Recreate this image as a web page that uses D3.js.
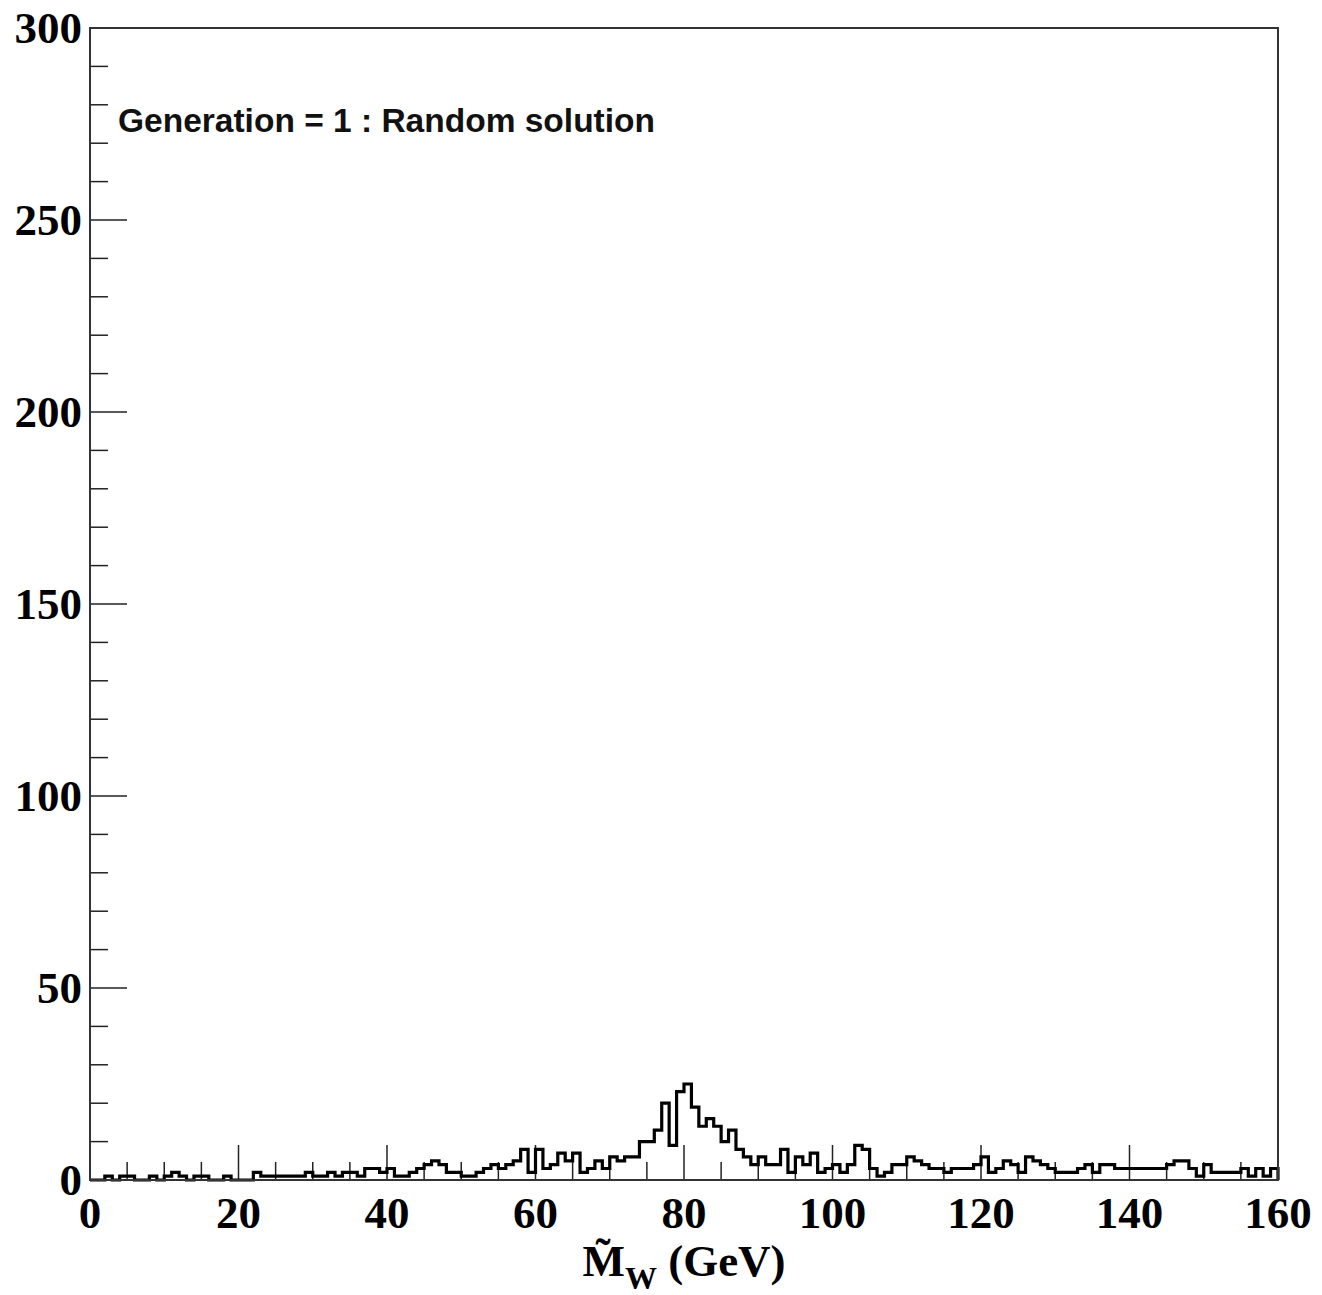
<!DOCTYPE html>
<html>
<head>
<meta charset="utf-8">
<script src="https://cdn.jsdelivr.net/npm/d3@7"></script>
<style>
  body { margin: 0; background: #fff; }
  .tick-label { font-family: "Liberation Serif", "Times New Roman", serif; font-weight: bold; font-size: 45px; fill: #000; }
</style>
</head>
<body>
<svg id="chart" width="1322" height="1295"></svg>
<script>
// histogram contents, 1 GeV bins from 0 to 160
const binLow = 0;
const binWidth = 1;
const counts = [
  0, 0, 1, 0, 1, 1, 0, 0, 1, 0,
  1, 2, 1, 0, 1, 1, 0, 0, 1, 0,
  0, 0, 2, 1, 1, 1, 1, 1, 1, 2,
  1, 1, 2, 1, 2, 2, 1, 3, 3, 2,
  3, 1, 1, 2, 3, 4, 5, 4, 2, 2,
  1, 1, 2, 3, 4, 3, 4, 5, 8, 2,
  8, 3, 4, 7, 5, 7, 2, 3, 5, 3,
  6, 5, 6, 6, 10, 10, 13, 20, 9, 23,
  25, 19, 14, 16, 14, 10, 13, 8, 6, 4,
  6, 4, 4, 8, 2, 6, 4, 7, 2, 3,
  4, 2, 4, 9, 8, 3, 1, 2, 4, 4,
  6, 5, 4, 3, 3, 2, 3, 3, 3, 4,
  6, 2, 3, 5, 4, 2, 6, 5, 4, 3,
  2, 2, 2, 3, 4, 2, 4, 4, 3, 3,
  3, 3, 3, 3, 3, 4, 5, 5, 3, 1,
  4, 2, 2, 2, 2, 3, 1, 3, 1, 3
];

const xTicks = [0, 20, 40, 60, 80, 100, 120, 140, 160];
const yTicks = [0, 50, 100, 150, 200, 250, 300];
const labelText = "Generation = 1 : Random solution";

const margin = { left: 90, right: 44, top: 28, bottom: 115 };
const width = 1322, height = 1295;
const plotW = width - margin.left - margin.right;
const plotH = height - margin.top - margin.bottom;

const svg = d3.select("#chart");
const g = svg.append("g").attr("transform", `translate(${margin.left},${margin.top})`);

const x = d3.scaleLinear().domain([0, 160]).range([0, plotW]);
const y = d3.scaleLinear().domain([0, 300]).range([plotH, 0]);

// step outline of the histogram
let pts = [[binLow, 0]];
counts.forEach((c, i) => {
  const lo = binLow + i * binWidth;
  pts.push([lo, c]);
  pts.push([lo + binWidth, c]);
});
pts.push([binLow + counts.length * binWidth, 0]);

const line = d3.line().x(d => x(d[0])).y(d => y(d[1]));

// minor / major ticks drawn inside the frame
const xMinor = d3.range(0, 161, 5).filter(v => v % 20 !== 0);
const yMinor = d3.range(0, 301, 10).filter(v => v % 50 !== 0);

g.selectAll(".xmaj").data(xTicks).enter().append("line")
  .attr("x1", d => x(d)).attr("x2", d => x(d))
  .attr("y1", plotH).attr("y2", plotH - 35)
  .attr("stroke", "#222").attr("stroke-width", 1.5);
g.selectAll(".xmin").data(xMinor).enter().append("line")
  .attr("x1", d => x(d)).attr("x2", d => x(d))
  .attr("y1", plotH).attr("y2", plotH - 18)
  .attr("stroke", "#222").attr("stroke-width", 1.5);
g.selectAll(".ymaj").data(yTicks).enter().append("line")
  .attr("x1", 0).attr("x2", 37)
  .attr("y1", d => y(d)).attr("y2", d => y(d))
  .attr("stroke", "#222").attr("stroke-width", 1.5);
g.selectAll(".ymin").data(yMinor).enter().append("line")
  .attr("x1", 0).attr("x2", 18)
  .attr("y1", d => y(d)).attr("y2", d => y(d))
  .attr("stroke", "#222").attr("stroke-width", 1.5);

g.append("path")
  .attr("d", line(pts))
  .attr("fill", "none")
  .attr("stroke", "#000")
  .attr("stroke-width", 3.2);

// frame
g.append("rect")
  .attr("x", 0).attr("y", 0).attr("width", plotW).attr("height", plotH)
  .attr("fill", "none").attr("stroke", "#333").attr("stroke-width", 2);

// tick labels
g.selectAll(".xl").data(xTicks).enter().append("text")
  .attr("class", "tick-label")
  .attr("x", d => x(d)).attr("y", plotH + 48)
  .attr("text-anchor", "middle")
  .text(d => d);
g.selectAll(".yl").data(yTicks).enter().append("text")
  .attr("class", "tick-label")
  .attr("x", -8).attr("y", d => y(d) + 15)
  .attr("text-anchor", "end")
  .text(d => d);

// axis title
const title = g.append("text")
  .attr("class", "tick-label")
  .attr("x", plotW / 2).attr("y", plotH + 96)
  .attr("text-anchor", "middle");
title.append("tspan").text("M\u0303");
title.append("tspan").attr("font-size", "32px").attr("dy", 13).text("W");
title.append("tspan").attr("dy", -13).text(" (GeV)");

// text in the frame
g.append("text")
  .attr("x", 28).attr("y", 104)
  .attr("font-family", "Liberation Sans, Arial, sans-serif")
  .attr("font-weight", "bold")
  .attr("font-size", "33.5px")
  .attr("fill", "#111")
  .text(labelText);
</script>
</body>
</html>
